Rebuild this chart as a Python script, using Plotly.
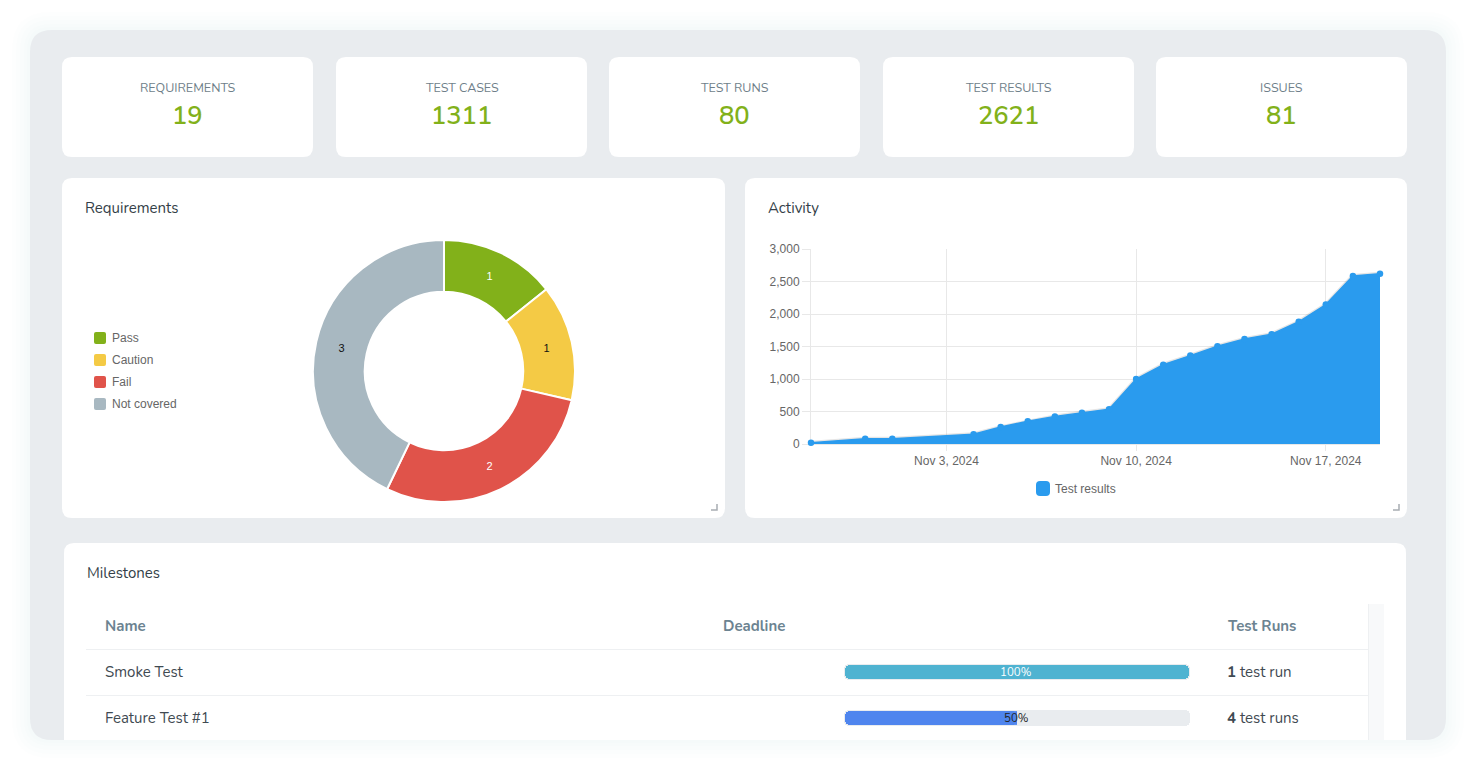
import plotly.graph_objects as go

W, H = 1476, 770

# ---------- data ----------
stat_labels = ["REQUIREMENTS", "TEST CASES", "TEST RUNS", "TEST RESULTS", "ISSUES"]
stat_values = ["19", "1311", "80", "2621", "81"]

req_labels = ["Pass", "Caution", "Fail", "Not covered"]
req_values = [1, 1, 2, 3]
req_colors = ["#82b11a", "#f4ca45", "#e0534a", "#a8b8c1"]
req_text_colors = ["#ffffff", "#111111", "#ffffff", "#111111"]

activity_dates = ["2024-10-29", "2024-10-31", "2024-11-01", "2024-11-04", "2024-11-05",
                  "2024-11-06", "2024-11-07", "2024-11-08", "2024-11-09", "2024-11-10",
                  "2024-11-11", "2024-11-12", "2024-11-13", "2024-11-14", "2024-11-15",
                  "2024-11-16", "2024-11-17", "2024-11-18", "2024-11-19"]
activity_values = [20, 80, 82, 150, 260, 350, 425, 480, 535, 1000,
                   1220, 1360, 1505, 1615, 1690, 1880, 2145, 2585, 2621]
activity_tick_dates = ["2024-11-03", "2024-11-10", "2024-11-17"]
activity_tick_labels = ["Nov 3, 2024", "Nov 10, 2024", "Nov 17, 2024"]

milestone_names = ["Smoke Test", "Feature Test #1"]
milestone_progress = [100, 50]
milestone_colors = ["#4fb3d1", "#4f85ee"]
milestone_run_counts = [1, 4]
milestone_run_words = ["test run", "test runs"]
table_headers = ["Name", "Deadline", "Test Runs"]

# ---------- helpers ----------
UI = "Nunito, Lato, 'Noto Sans', sans-serif"
CH = "'Liberation Sans', Arial, sans-serif"
px = lambda x: x / W
py = lambda y: 1 - y / H


def rr(x0, y0, x1, y1, r, bottom=True):
    rb = r if bottom else 0
    return (f"M{px(x0+r)},{py(y0)} L{px(x1-r)},{py(y0)} "
            f"Q{px(x1)},{py(y0)} {px(x1)},{py(y0+r)} "
            f"L{px(x1)},{py(y1-rb)} Q{px(x1)},{py(y1)} {px(x1-rb)},{py(y1)} "
            f"L{px(x0+rb)},{py(y1)} Q{px(x0)},{py(y1)} {px(x0)},{py(y1-rb)} "
            f"L{px(x0)},{py(y0+r)} Q{px(x0)},{py(y0)} {px(x0+r)},{py(y0)} Z")


shapes, annos = [], []


def box(x0, y0, x1, y1, r, color, bottom=True, layer="below"):
    shapes.append(dict(type="path", path=rr(x0, y0, x1, y1, r, bottom), xref="paper", yref="paper",
                       fillcolor=color, line=dict(width=0), layer=layer))


def line(x0, y0, x1, y1, color, width=1):
    shapes.append(dict(type="line", x0=px(x0), x1=px(x1), y0=py(y0), y1=py(y1), xref="paper", yref="paper",
                       line=dict(color=color, width=width), layer="below"))


def label(x, y, text, size, color, anchor="left", family=UI, weight=None):
    font = dict(size=size, color=color, family=family)
    if weight:
        font["weight"] = weight
    annos.append(dict(x=px(x), y=py(y), xref="paper", yref="paper", text=text, showarrow=False,
                      xanchor=anchor, yanchor="middle", align=anchor, font=font, borderpad=0))


# soft page shadow, main panel
for g in (18, 14, 10, 6, 3):
    box(30 - g, 30 - g, 1446 + g, 740 + g, 20 + g, "rgba(60,70,80,0.006)")
box(30, 30, 1446, 740, 22, "#e9ecef")

# stat cards
card_x = [(62, 313), (336, 587), (609, 860), (883, 1134), (1156, 1407)]
for (a, b), t, v in zip(card_x, stat_labels, stat_values):
    box(a, 57, b, 157, 10, "#ffffff")
    label((a + b) / 2, 87.5, t, 12.5, "#6f7f8a", "center")
    label((a + b) / 2, 115, v, 25.5, "#82b11a", "center", weight=600)

# chart panels
box(62, 178, 725, 518, 10, "#ffffff")
box(745, 178, 1407, 518, 10, "#ffffff")
label(84, 208, "Requirements", 15, "#343f48")
label(767, 208, "Activity", 15, "#343f48")

# resize handles
for hx in (717, 1399):
    shapes.append(dict(type="path", path=f"M{px(hx)},{py(504)} L{px(hx)},{py(510)} L{px(hx-6)},{py(510)}",
                       xref="paper", yref="paper", line=dict(color="#a8adb2", width=1.5), layer="below"))

# requirement legend
for i, (n, c) in enumerate(zip(req_labels, req_colors)):
    yc = 338 + 22 * i
    box(94, yc - 6, 106, yc + 6, 2, c)
    label(111, yc, n, 12, "#666666", family=CH)

# activity legend
box(1036, 481, 1050, 496, 4, "#2a9bee")
label(1054, 488.5, "Test results", 12, "#666666", family=CH)

# milestones card (runs off the panel bottom)
box(64, 543, 1406, 740, 10, "#ffffff", bottom=False)
label(86, 573, "Milestones", 15, "#343f48")
shapes.append(dict(type="rect", x0=px(1369), x1=px(1384), y0=py(604), y1=py(740), xref="paper", yref="paper",
                   fillcolor="#f8f9fa", line=dict(width=0), layer="below"))
line(1368.5, 604, 1368.5, 740, "#eef0f2")
line(86, 649.5, 1368, 649.5, "#eef0f2")
line(86, 695.5, 1368, 695.5, "#eef0f2")
for x, t in zip((104, 722, 1226), table_headers):
    label(x, 626, f"<b>{t}</b>", 15, "#6c8391")
for i, n in enumerate(milestone_names):
    yc = 672 + 46 * i
    label(104, yc, n, 15, "#3f4a52")
    label(1226, yc, f"<b>{milestone_run_counts[i]}</b> {milestone_run_words[i]}", 15, "#3f4a52")
    tc = "#ffffff" if milestone_progress[i] > 50 else "#212529"
    label(1016.5, yc, f"{milestone_progress[i]}%", 11.5, tc, "center")

# ---------- figure ----------
fig = go.Figure()

fig.add_trace(go.Pie(
    labels=req_labels, values=req_values, sort=False, direction="clockwise", rotation=0, hole=0.605,
    marker=dict(colors=req_colors, line=dict(color="#ffffff", width=2)),
    textinfo="value", textposition="inside", insidetextorientation="horizontal",
    textfont=dict(family=CH, size=11, color=req_text_colors),
    domain=dict(x=[px(313), px(575)], y=[py(502), py(240)]), showlegend=False,
))

fig.add_trace(go.Scatter(x=activity_dates, y=activity_values, mode="lines", showlegend=False, hoverinfo="skip",
                         line=dict(color="rgba(0,0,0,0.10)", width=4), xaxis="x", yaxis="y", cliponaxis=False))
fig.add_trace(go.Scatter(x=activity_dates, y=activity_values, mode="lines+markers", name="Test results",
                         fill="tozeroy", fillcolor="#2a9bee", line=dict(color="#2a9bee", width=1.5),
                         marker=dict(color="#2a9bee", size=6.5), showlegend=False, xaxis="x", yaxis="y",
                         cliponaxis=False))

# progress bars: only a bar's far end is rounded, so two overlapping parts make a bar round at both ends
rows = milestone_names
full = 100
inset = 0.3
mid_lo, mid_hi = 40, 60
left_base = [min(p, mid_hi) for p in milestone_progress]
right_len = [max(p - inset - mid_lo, 0) if p > mid_hi else 0 for p in milestone_progress]
fig.add_trace(go.Bar(y=rows, x=[-mid_hi] * 2, base=[mid_hi] * 2, orientation="h", width=0.36,
                     marker=dict(color="#e9ecef", line=dict(width=0)), xaxis="x2", yaxis="y2", showlegend=False))
fig.add_trace(go.Bar(y=rows, x=[full - mid_lo] * 2, base=[mid_lo] * 2, orientation="h", width=0.36,
                     marker=dict(color="#e9ecef", line=dict(width=0)), xaxis="x2", yaxis="y2", showlegend=False))
fig.add_trace(go.Bar(y=rows, x=[-(b - inset) for b in left_base], base=left_base, orientation="h", width=0.3,
                     marker=dict(color=milestone_colors, line=dict(width=0)), xaxis="x2", yaxis="y2",
                     showlegend=False))
fig.add_trace(go.Bar(y=rows, x=right_len, base=[mid_lo] * 2, orientation="h", width=0.3,
                     marker=dict(color=milestone_colors, line=dict(width=0)), xaxis="x2", yaxis="y2",
                     showlegend=False))

# square off the leading edge of a part-filled bar, as the reference has it
for i, p in enumerate(milestone_progress):
    if p < full:
        shapes.append(dict(type="rect", xref="x2", yref="y2", x0=p - 5, x1=p, y0=i - 0.15, y1=i + 0.15,
                           fillcolor=milestone_colors[i], line=dict(width=0), layer="above"))

GRID = "#e8e8e8"
fig.update_layout(
    width=W, height=H, margin=dict(l=0, r=0, t=0, b=0, pad=0, autoexpand=False), autosize=False,
    paper_bgcolor="#ffffff", plot_bgcolor="rgba(0,0,0,0)",
    barmode="overlay", barcornerradius=5.5, bargap=0,
    shapes=shapes, annotations=annos, showlegend=False,
    xaxis=dict(domain=[px(811), px(1380)], type="date", range=["2024-10-29", "2024-11-19"],
               tickmode="array", tickvals=activity_tick_dates, ticktext=activity_tick_labels,
               showgrid=True, gridcolor=GRID, gridwidth=1, ticks="outside", ticklen=6, tickcolor=GRID,
               tickfont=dict(family=CH, size=12, color="#666666"), showline=True, linecolor=GRID,
               zeroline=False, anchor="y", layer="below traces"),
    yaxis=dict(domain=[py(444), py(249)], range=[0, 3000], tickmode="array",
               tickvals=[0, 500, 1000, 1500, 2000, 2500, 3000], tickformat=",",
               showgrid=True, gridcolor=GRID, gridwidth=1, ticks="outside", ticklen=8, tickcolor=GRID,
               tickfont=dict(family=CH, size=12, color="#666666"), showline=True, linecolor=GRID,
               zeroline=False, anchor="x", layer="below traces"),
    xaxis2=dict(domain=[px(844), px(1190)], range=[0, 100], visible=False, anchor="y2"),
    yaxis2=dict(domain=[py(741), py(649)], range=[1.5, -0.5], visible=False, anchor="x2", type="category",
                categoryorder="array", categoryarray=rows),
)

fig.write_html("out.html", config=dict(displayModeBar=False),
               post_script="document.body.style.margin='0';document.body.style.overflow='hidden';")
